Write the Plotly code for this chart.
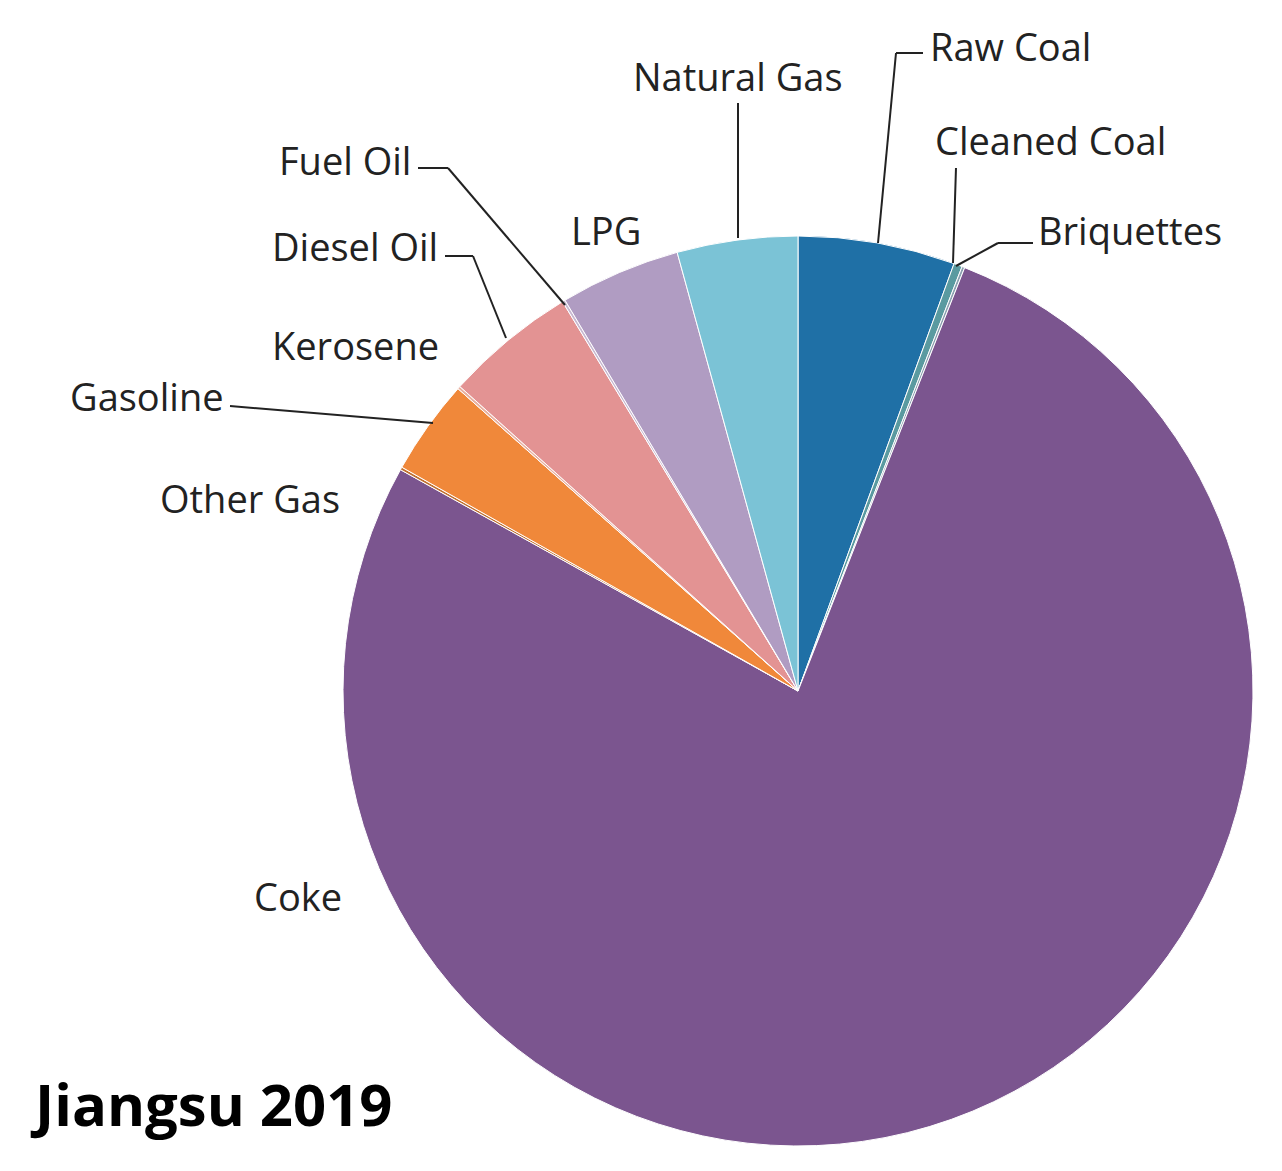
import plotly.graph_objects as go

labels = ["Raw Coal", "Cleaned Coal", "Briquettes", "Coke", "Other Gas", "Gasoline",
          "Kerosene", "Diesel Oil", "Fuel Oil", "LPG", "Natural Gas"]
values = [5.6, 0.3, 0.1, 77.5, 0.1, 3.4, 0.1, 4.7, 0.1, 4.3, 4.3]
colors = ["#1f70a6", "#5a9aa0", "#8aa0b0", "#7b558f", "#c07030", "#f0883a",
          "#e8b0a0", "#e39393", "#c8b8d0", "#b09cc2", "#7bc3d6"]

W, H = 1282, 1171
fig = go.Figure(go.Pie(labels=labels, values=values, sort=False, direction="clockwise",
                       rotation=0, textinfo="none", hoverinfo="label+percent",
                       marker=dict(colors=colors, line=dict(color="white", width=1)),
                       domain=dict(x=[335/W, 1245/W], y=[1-1138/H, 1-228/H])))

def px(x, y):
    return x / W, 1 - y / H

texts = [
    ("Raw Coal", 920, 38, "left"), ("Cleaned Coal", 925, 132, "left"),
    ("Briquettes", 1028, 222, "left"), ("Natural Gas", 730, 68, "center"),
    ("LPG", 598, 222, "center"), ("Fuel Oil", 405, 152, "right"),
    ("Diesel Oil", 432, 238, "right"), ("Kerosene", 347, 337, "center"),
    ("Gasoline", 218, 388, "right"), ("Other Gas", 242, 490, "center"),
    ("Coke", 290, 888, "center"),
]
anns = []
for t, x, y, a in texts:
    X, Y = px(x, y)
    anns.append(dict(text=t, x=X, y=Y, xref="paper", yref="paper", xanchor=a, yanchor="middle",
                     showarrow=False, font=dict(family="Open Sans", size=38, color="#222")))
X, Y = px(20, 1095)
anns.append(dict(text="<b>Jiangsu 2019</b>", x=X, y=Y, xref="paper", yref="paper", xanchor="left",
                 yanchor="middle", showarrow=False, font=dict(family="Open Sans", size=58, color="black")))

lines = [
    [(915, 45), (888, 45), (870, 235)],
    [(948, 160), (945, 255)],
    [(1025, 235), (990, 235), (948, 258)],
    [(730, 95), (730, 230)],
    [(410, 160), (440, 160), (557, 297)],
    [(437, 248), (465, 248), (498, 330)],
    [(222, 398), (425, 415)],
]
shapes = []
for pts in lines:
    for (x0, y0), (x1, y1) in zip(pts[:-1], pts[1:]):
        a0, b0 = px(x0, y0); a1, b1 = px(x1, y1)
        shapes.append(dict(type="line", xref="paper", yref="paper", x0=a0, y0=b0, x1=a1, y1=b1,
                           line=dict(color="#222", width=2)))

fig.update_layout(width=W, height=H, margin=dict(l=0, r=0, t=0, b=0), showlegend=False,
                  paper_bgcolor="white", annotations=anns, shapes=shapes)
fig.write_html("out.html")
